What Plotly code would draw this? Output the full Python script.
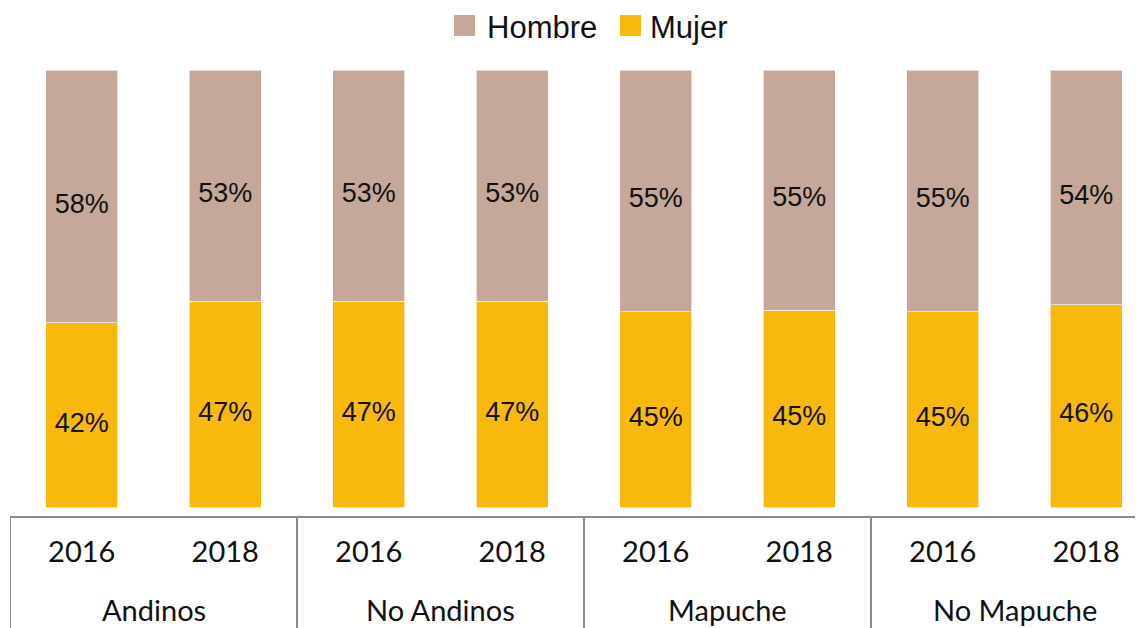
import plotly.graph_objects as go

groups = ["Andinos", "Andinos", "No Andinos", "No Andinos",
          "Mapuche", "Mapuche", "No Mapuche", "No Mapuche"]
years = ["2016", "2018", "2016", "2018", "2016", "2018", "2016", "2018"]
mujer = [42.2, 47.2, 47.2, 47.2, 44.7, 45.1, 44.7, 46.4]
hombre = [57.8, 52.8, 52.8, 52.8, 55.3, 54.9, 55.3, 53.6]
series_names = ["Hombre", "Mujer"]
colors = {"Hombre": "#C5A899", "Mujer": "#F8B90C"}

label_font = "Liberation Sans Narrow, Arial Narrow, Liberation Sans, Arial"
axis_font = "Lato, Noto Sans, sans-serif"

cats = [f"{g} {y}" for g, y in zip(groups, years)]
fig = go.Figure()
fig.add_trace(go.Bar(x=cats, y=mujer, name="Mujer", marker_color=colors["Mujer"],
                     marker_line=dict(color="rgba(255,255,255,0.6)", width=1),
                     width=0.5, showlegend=False, hoverinfo="skip"))
fig.add_trace(go.Bar(x=cats, y=hombre, name="Hombre", marker_color=colors["Hombre"],
                     marker_line=dict(color="rgba(255,255,255,0.6)", width=1),
                     width=0.5, showlegend=False, hoverinfo="skip"))

# data labels, slightly below segment centres
shift = 2.2
mid_m = [m / 2 - shift for m in mujer]
mid_h = [m + h / 2 - shift for m, h in zip(mujer, hombre)]
for ys, vals in ((mid_m, mujer), (mid_h, hombre)):
    fig.add_trace(go.Scatter(x=cats, y=ys, mode="text",
                             text=[f"{round(v):.0f}%" for v in vals],
                             textposition="middle center",
                             textfont=dict(family=label_font, size=27, color="#111111"),
                             showlegend=False, hoverinfo="skip"))

# figure geometry; the page adds an 8px body margin
OFF = 8
W, H = 1143 - OFF, 628
ml, mr, mt, mb = 2, 0, 62, 120
pw, ph = W - ml - mr, H - mt - mb
def px(xv): return (xv - OFF - ml) / pw
def py(yv): return (H - mb - (yv - OFF)) / ph

slot = 143.5

# manual legend
legend_items = [("Hombre", 454, 485), ("Mujer", 620, 648)]
for name, sx, tx in legend_items:
    fig.add_shape(type="rect", xref="paper", yref="paper",
                  x0=px(sx), x1=px(sx + 21), y0=py(36), y1=py(15),
                  fillcolor=colors[name], line_width=0)
    fig.add_annotation(xref="paper", yref="paper", x=px(tx), y=py(27),
                       text=name, showarrow=False, xanchor="left", yanchor="middle",
                       font=dict(family=label_font, size=31, color="#111111"))

# group labels and dividers
group_names = list(dict.fromkeys(groups))
for g in group_names:
    idx = [i for i, gg in enumerate(groups) if gg == g]
    fig.add_annotation(xref="x", yref="paper", x=sum(idx) / len(idx), y=py(609),
                       text=g, showarrow=False, xanchor="center", yanchor="middle",
                       font=dict(family=axis_font, size=29, color="#111111"))
    for b in (min(idx) - 0.5, max(idx) + 0.5):
        fig.add_shape(type="line", xref="x", yref="paper", x0=b, x1=b,
                      y0=0, y1=py(H), line=dict(color="#8C8C8C", width=2))

fig.update_layout(
    width=W, height=H,
    margin=dict(l=ml, r=mr, t=mt, b=mb),
    barmode="stack",
    plot_bgcolor="white", paper_bgcolor="white",
    showlegend=False,
)
fig.update_xaxes(
    type="category",
    range=[-0.5, -0.5 + pw / slot],
    tickmode="array", tickvals=cats, ticktext=years,
    showline=True, linecolor="#8C8C8C", linewidth=2,
    ticks="outside", ticklen=9, tickcolor="rgba(0,0,0,0)",
    tickfont=dict(family=axis_font, size=29, color="#111111"),
    showgrid=False, automargin=False, fixedrange=True,
)
fig.update_yaxes(range=[-1.94, 100], visible=False, showgrid=False,
                 zeroline=False, fixedrange=True)

fig.write_html("out.html")
